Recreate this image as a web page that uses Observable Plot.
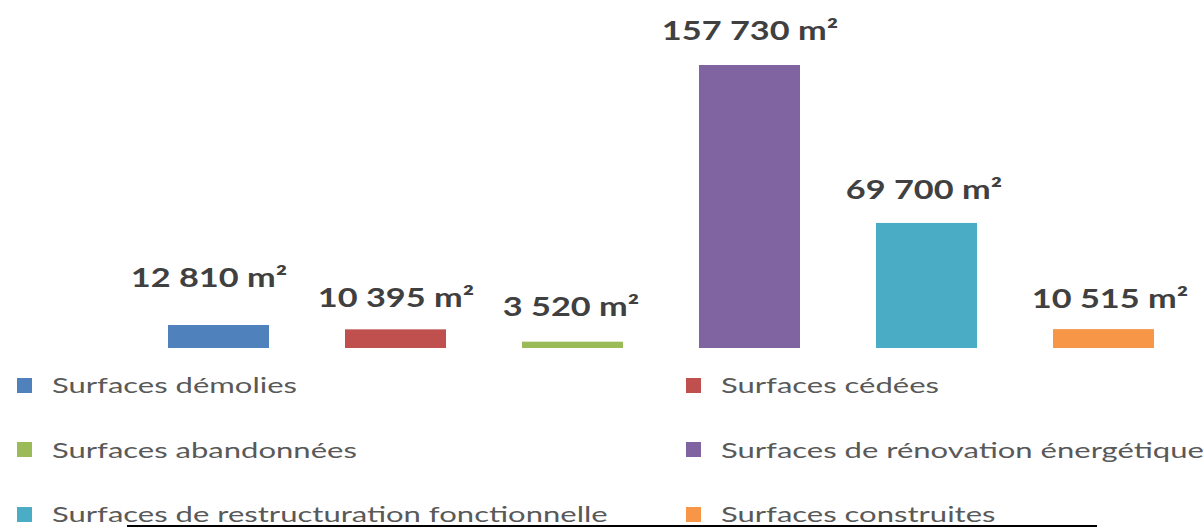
<!DOCTYPE html>
<html><head><meta charset="utf-8">
<script src="https://cdn.jsdelivr.net/npm/d3@7"></script>
<script src="https://cdn.jsdelivr.net/npm/@observablehq/plot@0.6"></script>
<style>
html,body{margin:0;padding:0;background:#fff;overflow:hidden;}
#wrap{position:relative;width:1203px;height:528px;overflow:hidden;font-family:Lato,sans-serif;background:#fff;}
#wrap svg{position:absolute;left:0;top:0;}
.item{position:absolute;display:flex;align-items:center;height:22px;}
.sw{width:15px;height:15px;flex:none;}
.lab{font-size:22px;color:#595959;transform:scaleX(1.41);transform-origin:left center;white-space:nowrap;line-height:1;margin-left:20px;}
#rule{position:absolute;left:127px;top:525px;width:970px;height:2px;background:#000;}
</style></head><body><div id="wrap"></div>
<script>
// ---- data ----
const categories = [
  "Surfaces démolies",
  "Surfaces cédées",
  "Surfaces abandonnées",
  "Surfaces de rénovation énergétique",
  "Surfaces de restructuration fonctionnelle",
  "Surfaces construites"
];
const values = [12810, 10395, 3520, 157730, 69700, 10515];
const valueLabels = ["12 810 m²", "10 395 m²", "3 520 m²", "157 730 m²", "69 700 m²", "10 515 m²"];
const colors = ["#4F81BD", "#C0504D", "#9BBB59", "#8064A2", "#4BACC6", "#F79646"];

// label nudges (style only)
const labelLift = [39, 23, 26, 26, 24, 22];
const labelShift = [-10, 0, -2, 0, -3, 6];
const LABEL_SX = 1.32;

const data = categories.map((c, i) => ({cat: c, value: values[i], label: valueLabels[i]}));
const wrap = document.getElementById("wrap");

const chart = Plot.plot({
  width: 1203, height: 360,
  marginTop: 65, marginBottom: 12, marginLeft: 130, marginRight: 11,
  x: {domain: categories, paddingInner: 0.43, paddingOuter: 0.215, axis: null},
  y: {domain: [0, 157730], axis: null},
  color: {domain: categories, range: colors},
  style: {fontFamily: "Lato, sans-serif", background: "white", overflow: "visible"},
  marks: [
    Plot.barY(data, {x: "cat", y: "value", fill: "cat"}),
    ...data.map((d, i) => Plot.text([d], {
      x: "cat", y: "value", text: "label", lineAnchor: "bottom",
      dy: -labelLift[i], dx: labelShift[i],
      fontSize: 26, fontWeight: 700, fill: "#404040"
    }))
  ]
});
wrap.appendChild(chart);

d3.select(chart).selectAll("g[aria-label=text] text").each(function() {
  const t = this.getAttribute("transform");
  if (t) this.setAttribute("transform", t + ` scale(${LABEL_SX},1)`);
  else {
    const x = +this.getAttribute("x") || 0, y = +this.getAttribute("y") || 0;
    this.removeAttribute("x"); this.removeAttribute("y");
    this.setAttribute("transform", `translate(${x},${y}) scale(${LABEL_SX},1)`);
  }
});

// ---- legend ----
categories.forEach((c, i) => {
  const row = Math.floor(i / 2), col = i % 2;
  const item = document.createElement("div");
  item.className = "item";
  item.style.left = (col ? 686 : 17) + "px";
  item.style.top = (374 + row * 64.5) + "px";
  const sw = document.createElement("div");
  sw.className = "sw"; sw.style.background = colors[i];
  const lab = document.createElement("span");
  lab.className = "lab"; lab.textContent = c;
  item.appendChild(sw); item.appendChild(lab);
  wrap.appendChild(item);
});
const rule = document.createElement("div");
rule.id = "rule";
wrap.appendChild(rule);
</script>
</body></html>
